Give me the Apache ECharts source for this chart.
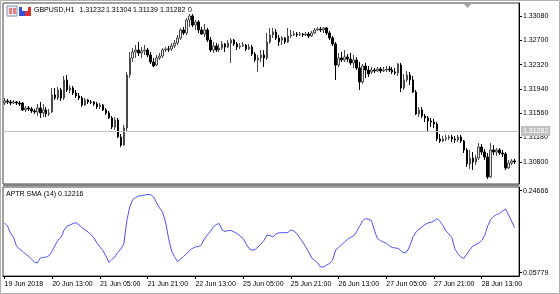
<!DOCTYPE html>
<html><head><meta charset="utf-8">
<script src="https://cdn.jsdelivr.net/npm/echarts@6/dist/echarts.min.js"></script>
<style>html,body{margin:0;padding:0;background:#fff}#c{width:560px;height:294px}</style>
</head><body><div id="c"></div>
<script>
// ---- data ----
const headerTokens = ['GBPUSD,H1', '1.31232', '1.31304', '1.31139', '1.31282', '0'];
const bidPrice = 1.31282;
const indicatorTitle = 'APTR SMA (14) 0.12216';
const priceTicks = [1.33080, 1.32700, 1.32320, 1.31940, 1.31560, 1.31180, 1.30800];
const indTicks = [0.24666, 0.05779];
const timeLabels = ['19 Jun 2018', '20 Jun 13:00', '21 Jun 05:00', '21 Jun 21:00', '22 Jun 13:00',
  '25 Jun 05:00', '25 Jun 21:00', '26 Jun 13:00', '27 Jun 05:00', '27 Jun 21:00', '28 Jun 13:00'];
const labelEvery = 16;

const open = [
1.31719,1.31750,1.31735,1.31719,1.31735,1.31719,1.31719,1.31610,1.31641,1.31625,
1.31594,1.31578,1.31641,1.31563,1.31610,1.31547,1.31578,1.31844,1.31797,1.31922,
1.31797,1.32079,1.31922,1.31954,1.31875,1.31829,1.31797,1.31688,1.31766,1.31735,
1.31735,1.31703,1.31657,1.31688,1.31610,1.31563,1.31485,1.31344,1.31453,1.31187,
1.31062,1.31328,1.32157,1.32423,1.32517,1.32548,1.32501,1.32532,1.32548,1.32470,
1.32360,1.32313,1.32423,1.32454,1.32548,1.32564,1.32564,1.32611,1.32657,1.32736,
1.32861,1.32814,1.33017,1.33080,1.32939,1.32986,1.32861,1.32798,1.32861,1.32704,
1.32548,1.32611,1.32548,1.32579,1.32642,1.32595,1.32657,1.32704,1.32642,1.32595,
1.32611,1.32626,1.32564,1.32595,1.32485,1.32392,1.32423,1.32470,1.32423,1.32673,
1.32783,1.32830,1.32736,1.32704,1.32736,1.32673,1.32767,1.32783,1.32798,1.32783,
1.32798,1.32783,1.32798,1.32767,1.32814,1.32861,1.32876,1.32861,1.32892,1.32814,
1.32736,1.32642,1.32313,1.32423,1.32392,1.32439,1.32407,1.32345,1.32392,1.32267,
1.32048,1.32298,1.32235,1.32204,1.32235,1.32220,1.32251,1.32220,1.32235,1.32251,
1.32235,1.32204,1.32188,1.32313,1.31954,1.32079,1.32157,1.32079,1.31891,1.31547,
1.31610,1.31516,1.31485,1.31438,1.31422,1.31391,1.31156,1.31125,1.31156,1.31172,
1.31187,1.31156,1.31140,1.31187,1.31125,1.30984,1.30765,1.30859,1.30796,1.30859,
1.31031,1.30953,1.30875,1.30562,1.30984,1.30953,1.30984,1.30937,1.30922,1.30702,
1.30781,1.30812];
const close = [
1.31750,1.31735,1.31719,1.31735,1.31719,1.31703,1.31610,1.31641,1.31625,1.31594,
1.31578,1.31641,1.31563,1.31610,1.31547,1.31563,1.31844,1.31797,1.31922,1.31797,
1.32079,1.31922,1.31954,1.31875,1.31829,1.31797,1.31688,1.31766,1.31735,1.31729,
1.31703,1.31657,1.31688,1.31610,1.31563,1.31485,1.31344,1.31453,1.31187,1.31062,
1.31328,1.32157,1.32423,1.32517,1.32548,1.32501,1.32532,1.32548,1.32470,1.32360,
1.32298,1.32423,1.32454,1.32548,1.32564,1.32558,1.32611,1.32657,1.32736,1.32861,
1.32814,1.33017,1.33080,1.32939,1.32986,1.32861,1.32798,1.32861,1.32704,1.32548,
1.32611,1.32548,1.32579,1.32642,1.32595,1.32657,1.32704,1.32642,1.32595,1.32611,
1.32626,1.32564,1.32595,1.32485,1.32392,1.32423,1.32470,1.32423,1.32673,1.32783,
1.32830,1.32736,1.32673,1.32736,1.32673,1.32767,1.32783,1.32798,1.32783,1.32798,
1.32783,1.32798,1.32767,1.32814,1.32861,1.32876,1.32861,1.32892,1.32814,1.32736,
1.32642,1.32313,1.32423,1.32392,1.32439,1.32407,1.32345,1.32392,1.32267,1.32048,
1.32298,1.32235,1.32173,1.32235,1.32220,1.32251,1.32220,1.32235,1.32251,1.32235,
1.32204,1.32188,1.32329,1.31954,1.32079,1.32157,1.32079,1.31891,1.31547,1.31610,
1.31516,1.31485,1.31438,1.31422,1.31391,1.31156,1.31125,1.31156,1.31172,1.31187,
1.31156,1.31140,1.31187,1.31125,1.30984,1.30765,1.30859,1.30796,1.30859,1.31031,
1.30953,1.30875,1.30562,1.30984,1.30953,1.30984,1.30937,1.30922,1.30702,1.30781,
1.30812,1.30796];
const high = [
1.31797,1.31782,1.31766,1.31766,1.31750,1.31750,1.31735,1.31672,1.31672,1.31657,
1.31625,1.31703,1.31735,1.31703,1.31657,1.31625,1.31954,1.31954,1.31969,1.31954,
1.32141,1.32157,1.32001,1.31985,1.31922,1.31875,1.31829,1.31797,1.31782,1.31766,
1.31750,1.31735,1.31719,1.31703,1.31641,1.31594,1.31516,1.31500,1.31485,1.31234,
1.31375,1.32204,1.32517,1.32579,1.32626,1.32673,1.32595,1.32626,1.32579,1.32517,
1.32423,1.32470,1.32501,1.32579,1.32595,1.32611,1.32657,1.32704,1.32783,1.32892,
1.32908,1.33048,1.33111,1.33111,1.33017,1.33017,1.32908,1.32955,1.32892,1.32751,
1.32673,1.32657,1.32642,1.32689,1.32657,1.32704,1.32736,1.32720,1.32673,1.32657,
1.32673,1.32642,1.32642,1.32626,1.32517,1.32470,1.32548,1.32548,1.32814,1.32892,
1.32892,1.32876,1.32783,1.32767,1.32751,1.32892,1.32861,1.32845,1.32830,1.32830,
1.32814,1.32830,1.32830,1.32845,1.32892,1.32908,1.32908,1.32908,1.32908,1.32845,
1.32767,1.32673,1.32501,1.32517,1.32548,1.32485,1.32501,1.32470,1.32439,1.32360,
1.32329,1.32345,1.32298,1.32282,1.32267,1.32282,1.32282,1.32282,1.32298,1.32298,
1.32282,1.32267,1.32345,1.32345,1.32173,1.32220,1.32204,1.32141,1.31922,1.31657,
1.31657,1.31547,1.31516,1.31485,1.31469,1.31422,1.31234,1.31203,1.31219,1.31219,
1.31219,1.31203,1.31219,1.31219,1.31140,1.31015,1.30984,1.30953,1.30906,1.31093,
1.31078,1.31000,1.30937,1.31093,1.31062,1.31015,1.31015,1.30984,1.30953,1.30828,
1.30843,1.30843];
const low = [
1.31688,1.31703,1.31688,1.31703,1.31688,1.31672,1.31594,1.31578,1.31594,1.31563,
1.31547,1.31516,1.31485,1.31500,1.31500,1.31516,1.31563,1.31766,1.31766,1.31750,
1.31766,1.31891,1.31875,1.31844,1.31797,1.31766,1.31657,1.31672,1.31703,1.31703,
1.31672,1.31625,1.31625,1.31594,1.31531,1.31469,1.31312,1.31297,1.31172,1.31031,
1.31047,1.31281,1.32110,1.32360,1.32423,1.32454,1.32423,1.32470,1.32439,1.32329,
1.32282,1.32298,1.32392,1.32423,1.32517,1.32517,1.32532,1.32579,1.32626,1.32704,
1.32783,1.32783,1.32908,1.32908,1.32861,1.32814,1.32783,1.32751,1.32673,1.32517,
1.32501,1.32517,1.32517,1.32548,1.32517,1.32579,1.32345,1.32611,1.32548,1.32564,
1.32595,1.32532,1.32548,1.32454,1.32360,1.32204,1.32360,1.32282,1.32392,1.32642,
1.32736,1.32704,1.32611,1.32626,1.32642,1.32657,1.32736,1.32767,1.32751,1.32767,
1.32751,1.32767,1.32736,1.32751,1.32798,1.32845,1.32830,1.32814,1.32783,1.32704,
1.32611,1.32079,1.32282,1.32360,1.32360,1.32360,1.32313,1.32267,1.32235,1.31922,
1.32016,1.32110,1.32126,1.32173,1.32188,1.32204,1.32188,1.32204,1.32204,1.32204,
1.32173,1.32157,1.32141,1.31891,1.31922,1.32048,1.32001,1.31875,1.31531,1.31500,
1.31485,1.31422,1.31281,1.31344,1.31328,1.31125,1.31093,1.31109,1.31125,1.31140,
1.31109,1.31093,1.31109,1.31093,1.30937,1.30718,1.30687,1.30671,1.30749,1.30828,
1.30906,1.30828,1.30530,1.30546,1.30906,1.30890,1.30906,1.30875,1.30671,1.30687,
1.30749,1.30765];
const aptr = [
0.1723,0.1654,0.1492,0.1400,0.1193,0.1124,0.1078,0.1009,0.0963,0.0894,
0.0824,0.0801,0.0917,0.0928,0.0940,0.0974,0.1078,0.1216,0.1331,0.1400,
0.1561,0.1654,0.1677,0.1711,0.1730,0.1677,0.1619,0.1561,0.1515,0.1458,
0.1377,0.1262,0.1170,0.1089,0.0963,0.0813,0.0882,0.0940,0.1043,0.1124,
0.1239,0.1769,0.2091,0.2264,0.2310,0.2345,0.2356,0.2368,0.2379,0.2375,
0.2322,0.2183,0.2068,0.1976,0.1746,0.1377,0.1078,0.0951,0.0836,0.0882,
0.0951,0.1009,0.1089,0.1135,0.1170,0.1181,0.1216,0.1354,0.1446,0.1527,
0.1631,0.1688,0.1711,0.1561,0.1527,0.1550,0.1550,0.1515,0.1481,0.1423,
0.1366,0.1239,0.1135,0.1094,0.1112,0.1170,0.1239,0.1320,0.1446,0.1435,
0.1400,0.1469,0.1497,0.1499,0.1499,0.1504,0.1566,0.1539,0.1481,0.1377,
0.1285,0.1170,0.1055,0.0917,0.0859,0.0801,0.0709,0.0709,0.0755,0.0790,
0.0870,0.1101,0.1158,0.1216,0.1285,0.1343,0.1389,0.1423,0.1515,0.1642,
0.1769,0.1826,0.1808,0.1780,0.1561,0.1366,0.1320,0.1285,0.1257,0.1204,
0.1158,0.1147,0.1140,0.1078,0.1032,0.1066,0.1216,0.1407,0.1515,0.1584,
0.1631,0.1688,0.1723,0.1739,0.1769,0.1826,0.1757,0.1665,0.1539,0.1469,
0.1389,0.1124,0.1020,0.0940,0.0905,0.1009,0.1101,0.1193,0.1227,0.1262,
0.1320,0.1435,0.1654,0.1803,0.1872,0.1918,0.1942,0.1999,0.2045,0.1907,
0.1769,0.1619];

// ---- hourly categories (weekends skipped) ----
const MON = ['Jan','Feb','Mar','Apr','May','Jun','Jul','Aug','Sep','Oct','Nov','Dec'];
const categories = [];
let t = Date.UTC(2018, 5, 19, 21);
while (categories.length < open.length) {
  const d = new Date(t);
  const wd = d.getUTCDay();
  if (wd !== 0 && wd !== 6) {
    categories.push(d.getUTCDate() + ' ' + MON[d.getUTCMonth()] + ' ' +
      String(d.getUTCHours()).padStart(2, '0') + ':00');
  }
  t += 3600000;
}
categories.push(''); // right margin slot

const candles = open.map((o, i) => [o, close[i], low[i], high[i]]);

const FONT = 'Liberation Sans';
const FS = 7;
const chart = echarts.init(document.getElementById('c'), null, {renderer: 'canvas'});
const headerX = [34, 79.5, 106, 133, 160, 188];
const labelFilter = (i) => i % labelEvery === 0 && i / labelEvery < timeLabels.length;

chart.setOption({
  animation: false,
  backgroundColor: '#ffffff',
  textStyle: {fontFamily: FONT, fontSize: FS, color: '#000'},
  grid: [
    {left: 3, right: 41, top: 3, height: 181, show: true, borderColor: '#404040', borderWidth: 1, backgroundColor: '#fff'},
    {left: 3, right: 41, top: 187, height: 89, show: true, borderColor: '#404040', borderWidth: 1, backgroundColor: '#fff'}
  ],
  xAxis: [
    {type: 'category', gridIndex: 0, data: categories, boundaryGap: true,
     axisLine: {show: false}, axisTick: {show: false}, axisLabel: {show: false}, splitLine: {show: false}},
    {type: 'category', gridIndex: 1, data: categories, boundaryGap: true,
     axisLine: {show: true, lineStyle: {color: '#000'}},
     axisTick: {show: true, alignWithLabel: true, length: 3, lineStyle: {color: '#000'}, interval: labelFilter},
     axisLabel: {show: true, align: 'left', margin: 5, fontFamily: FONT, fontSize: FS, color: '#000',
       interval: labelFilter, formatter: (v, i) => timeLabels[i / labelEvery] || ''},
     splitLine: {show: false}}
  ],
  yAxis: [
    {type: 'value', gridIndex: 0, position: 'right', min: 1.30452, max: 1.33283,
     axisLine: {show: true, lineStyle: {color: '#000'}},
     axisTick: {show: true, inside: false, length: 3, customValues: priceTicks, lineStyle: {color: '#000'}},
     axisLabel: {show: true, margin: 4, customValues: priceTicks, fontFamily: FONT, fontSize: FS, color: '#000',
       formatter: (v) => v.toFixed(5)},
     splitLine: {show: false}},
    {type: 'value', gridIndex: 1, position: 'right', min: 0.05019, max: 0.25518,
     axisLine: {show: true, lineStyle: {color: '#000'}},
     axisTick: {show: true, inside: false, length: 3, customValues: indTicks, lineStyle: {color: '#000'}},
     axisLabel: {show: true, margin: 4, customValues: indTicks, fontFamily: FONT, fontSize: FS, color: '#000',
       formatter: (v) => v.toFixed(5)},
     splitLine: {show: false}}
  ],
  series: [
    {type: 'candlestick', xAxisIndex: 0, yAxisIndex: 0, data: candles, barWidth: 2, z: 3,
     itemStyle: {color: '#e8e8e8', color0: '#000', borderColor: '#4a4a4a', borderColor0: '#000', borderWidth: 1}},
    {type: 'line', name: 'bid', xAxisIndex: 0, yAxisIndex: 0, data: [], z: 2,
     markLine: {silent: true, symbol: ['none', 'none'], animation: false, precision: 5,
       lineStyle: {color: '#c0c0c0', width: 1, type: 'solid'},
       label: {show: true, position: 'end', distance: 2, formatter: () => bidPrice.toFixed(5),
         backgroundColor: '#c0c0c0', color: '#fff', padding: [2, 2, 1, 2], fontFamily: FONT, fontSize: FS},
       data: [{yAxis: bidPrice}]}},
    {type: 'line', xAxisIndex: 1, yAxisIndex: 1, data: aptr, showSymbol: false, smooth: false,
     lineStyle: {color: '#5050ff', width: 1}, itemStyle: {color: '#5050ff'}}
  ],
  graphic: [
    {type: 'rect', shape: {x: 0.5, y: 0.5, width: 559, height: 293}, style: {fill: 'none', stroke: '#b0b0b0', lineWidth: 1}, z: 100},
    // panel separator
    {type: 'rect', shape: {x: 3, y: 184, width: 516, height: 2}, style: {fill: '#808080'}, z: 40},
    // one-click icons
    {type: 'rect', shape: {x: 7, y: 6, width: 10, height: 10}, style: {fill: '#eef0f8', stroke: '#8090b0', lineWidth: 1}, z: 50},
    {type: 'rect', shape: {x: 9, y: 8, width: 3, height: 6}, style: {fill: '#e88080'}, z: 51},
    {type: 'rect', shape: {x: 13, y: 8, width: 3, height: 6}, style: {fill: '#e88080'}, z: 51},
    {type: 'rect', shape: {x: 19, y: 7, width: 6, height: 9}, style: {fill: '#3050e0'}, z: 50},
    {type: 'rect', shape: {x: 25, y: 7, width: 6, height: 9}, style: {fill: '#e03030'}, z: 50},
    {type: 'rect', shape: {x: 22, y: 7, width: 6, height: 4}, style: {fill: '#ffffff'}, z: 51},
    // chart shift marker
    {type: 'polygon', shape: {points: [[464, 4], [471, 4], [467.5, 8]]}, style: {fill: '#a0a0a0'}, z: 50},
    ...headerTokens.map((s, k) => ({type: 'text', x: headerX[k], y: 10, z: 60,
      style: {text: s, fill: '#000', font: FS + 'px "' + FONT + '"', textVerticalAlign: 'middle'}})),
    {type: 'text', x: 6, y: 194, z: 60,
     style: {text: indicatorTitle, fill: '#000', font: FS + 'px "' + FONT + '"', textVerticalAlign: 'middle'}}
  ]
});
</script>
</body></html>
